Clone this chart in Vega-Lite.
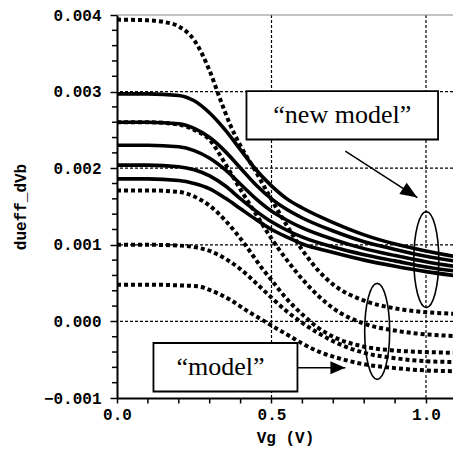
{
  "$schema": "https://vega.github.io/schema/vega-lite/v6.json",
  "width": 336,
  "height": 383,
  "autosize": {"type": "none"},
  "padding": {"left": 117, "top": 15, "right": 0, "bottom": 52},
  "background": "white",
  "view": {"stroke": null},
  "config": {
    "axis": {
      "labelFont": "Liberation Mono",
      "labelFontSize": 16,
      "labelFontWeight": "bold",
      "labelColor": "black",
      "labelOverlap": false,
      "titleFont": "Liberation Mono",
      "titleFontSize": 16,
      "titleFontWeight": "bold",
      "titleColor": "black",
      "domainColor": "black",
      "domainWidth": 2,
      "tickColor": "black",
      "tickWidth": 1.5,
      "grid": false
    }
  },
  "datasets": {
    "curves": [
      {"c": "S1", "k": "new", "x": 0, "y": 0.00297}, {"c": "S1", "k": "new", "x": 0.1, "y": 0.00297}, {"c": "S1", "k": "new", "x": 0.2, "y": 0.00295}, {"c": "S1", "k": "new", "x": 0.25, "y": 0.00288}, {"c": "S1", "k": "new", "x": 0.3, "y": 0.00272}, {"c": "S1", "k": "new", "x": 0.35, "y": 0.0025}, {"c": "S1", "k": "new", "x": 0.4, "y": 0.00224}, {"c": "S1", "k": "new", "x": 0.45, "y": 0.00198}, {"c": "S1", "k": "new", "x": 0.5, "y": 0.00177}, {"c": "S1", "k": "new", "x": 0.55, "y": 0.0016}, {"c": "S1", "k": "new", "x": 0.6, "y": 0.00148}, {"c": "S1", "k": "new", "x": 0.7, "y": 0.00129}, {"c": "S1", "k": "new", "x": 0.8, "y": 0.00113}, {"c": "S1", "k": "new", "x": 0.9, "y": 0.00101}, {"c": "S1", "k": "new", "x": 1.0, "y": 0.00092}, {"c": "S1", "k": "new", "x": 1.09, "y": 0.00085},
      {"c": "S2", "k": "new", "x": 0, "y": 0.0026}, {"c": "S2", "k": "new", "x": 0.1, "y": 0.0026}, {"c": "S2", "k": "new", "x": 0.2, "y": 0.00258}, {"c": "S2", "k": "new", "x": 0.25, "y": 0.00252}, {"c": "S2", "k": "new", "x": 0.3, "y": 0.0024}, {"c": "S2", "k": "new", "x": 0.35, "y": 0.00222}, {"c": "S2", "k": "new", "x": 0.4, "y": 0.002}, {"c": "S2", "k": "new", "x": 0.45, "y": 0.00178}, {"c": "S2", "k": "new", "x": 0.5, "y": 0.0016}, {"c": "S2", "k": "new", "x": 0.55, "y": 0.00146}, {"c": "S2", "k": "new", "x": 0.6, "y": 0.00135}, {"c": "S2", "k": "new", "x": 0.7, "y": 0.00118}, {"c": "S2", "k": "new", "x": 0.8, "y": 0.00104}, {"c": "S2", "k": "new", "x": 0.9, "y": 0.00094}, {"c": "S2", "k": "new", "x": 1.0, "y": 0.00085}, {"c": "S2", "k": "new", "x": 1.09, "y": 0.00079},
      {"c": "S3", "k": "new", "x": 0, "y": 0.0023}, {"c": "S3", "k": "new", "x": 0.1, "y": 0.0023}, {"c": "S3", "k": "new", "x": 0.2, "y": 0.00228}, {"c": "S3", "k": "new", "x": 0.25, "y": 0.00223}, {"c": "S3", "k": "new", "x": 0.3, "y": 0.00213}, {"c": "S3", "k": "new", "x": 0.35, "y": 0.00198}, {"c": "S3", "k": "new", "x": 0.4, "y": 0.00179}, {"c": "S3", "k": "new", "x": 0.45, "y": 0.0016}, {"c": "S3", "k": "new", "x": 0.5, "y": 0.00144}, {"c": "S3", "k": "new", "x": 0.55, "y": 0.00132}, {"c": "S3", "k": "new", "x": 0.6, "y": 0.00122}, {"c": "S3", "k": "new", "x": 0.7, "y": 0.00107}, {"c": "S3", "k": "new", "x": 0.8, "y": 0.00095}, {"c": "S3", "k": "new", "x": 0.9, "y": 0.00086}, {"c": "S3", "k": "new", "x": 1.0, "y": 0.00078}, {"c": "S3", "k": "new", "x": 1.09, "y": 0.00072},
      {"c": "S4", "k": "new", "x": 0, "y": 0.00204}, {"c": "S4", "k": "new", "x": 0.1, "y": 0.00204}, {"c": "S4", "k": "new", "x": 0.2, "y": 0.00202}, {"c": "S4", "k": "new", "x": 0.25, "y": 0.00198}, {"c": "S4", "k": "new", "x": 0.3, "y": 0.0019}, {"c": "S4", "k": "new", "x": 0.35, "y": 0.00177}, {"c": "S4", "k": "new", "x": 0.4, "y": 0.0016}, {"c": "S4", "k": "new", "x": 0.45, "y": 0.00144}, {"c": "S4", "k": "new", "x": 0.5, "y": 0.0013}, {"c": "S4", "k": "new", "x": 0.55, "y": 0.00119}, {"c": "S4", "k": "new", "x": 0.6, "y": 0.0011}, {"c": "S4", "k": "new", "x": 0.7, "y": 0.00097}, {"c": "S4", "k": "new", "x": 0.8, "y": 0.00087}, {"c": "S4", "k": "new", "x": 0.9, "y": 0.00079}, {"c": "S4", "k": "new", "x": 1.0, "y": 0.00071}, {"c": "S4", "k": "new", "x": 1.09, "y": 0.00066},
      {"c": "S5", "k": "new", "x": 0, "y": 0.00186}, {"c": "S5", "k": "new", "x": 0.1, "y": 0.00186}, {"c": "S5", "k": "new", "x": 0.2, "y": 0.00184}, {"c": "S5", "k": "new", "x": 0.25, "y": 0.0018}, {"c": "S5", "k": "new", "x": 0.3, "y": 0.00173}, {"c": "S5", "k": "new", "x": 0.35, "y": 0.00161}, {"c": "S5", "k": "new", "x": 0.4, "y": 0.00147}, {"c": "S5", "k": "new", "x": 0.45, "y": 0.00133}, {"c": "S5", "k": "new", "x": 0.5, "y": 0.0012}, {"c": "S5", "k": "new", "x": 0.55, "y": 0.0011}, {"c": "S5", "k": "new", "x": 0.6, "y": 0.00101}, {"c": "S5", "k": "new", "x": 0.7, "y": 0.0009}, {"c": "S5", "k": "new", "x": 0.8, "y": 0.0008}, {"c": "S5", "k": "new", "x": 0.9, "y": 0.00072}, {"c": "S5", "k": "new", "x": 1.0, "y": 0.00065}, {"c": "S5", "k": "new", "x": 1.09, "y": 0.0006},
      {"c": "D1", "k": "model", "x": 0, "y": 0.00394}, {"c": "D1", "k": "model", "x": 0.1, "y": 0.00393}, {"c": "D1", "k": "model", "x": 0.15, "y": 0.00391}, {"c": "D1", "k": "model", "x": 0.2, "y": 0.00385}, {"c": "D1", "k": "model", "x": 0.25, "y": 0.00367}, {"c": "D1", "k": "model", "x": 0.3, "y": 0.00327}, {"c": "D1", "k": "model", "x": 0.334, "y": 0.0029}, {"c": "D1", "k": "model", "x": 0.367, "y": 0.00256}, {"c": "D1", "k": "model", "x": 0.4, "y": 0.00229}, {"c": "D1", "k": "model", "x": 0.45, "y": 0.00195}, {"c": "D1", "k": "model", "x": 0.5, "y": 0.00159}, {"c": "D1", "k": "model", "x": 0.55, "y": 0.00125}, {"c": "D1", "k": "model", "x": 0.6, "y": 0.00093}, {"c": "D1", "k": "model", "x": 0.65, "y": 0.00067}, {"c": "D1", "k": "model", "x": 0.7, "y": 0.00048}, {"c": "D1", "k": "model", "x": 0.8, "y": 0.00027}, {"c": "D1", "k": "model", "x": 0.9, "y": 0.00017}, {"c": "D1", "k": "model", "x": 1.0, "y": 0.00012}, {"c": "D1", "k": "model", "x": 1.09, "y": 0.0001},
      {"c": "D2", "k": "model", "x": 0, "y": 0.0026}, {"c": "D2", "k": "model", "x": 0.1, "y": 0.0026}, {"c": "D2", "k": "model", "x": 0.2, "y": 0.00257}, {"c": "D2", "k": "model", "x": 0.25, "y": 0.0025}, {"c": "D2", "k": "model", "x": 0.3, "y": 0.00237}, {"c": "D2", "k": "model", "x": 0.35, "y": 0.00206}, {"c": "D2", "k": "model", "x": 0.4, "y": 0.00172}, {"c": "D2", "k": "model", "x": 0.45, "y": 0.0014}, {"c": "D2", "k": "model", "x": 0.5, "y": 0.00108}, {"c": "D2", "k": "model", "x": 0.55, "y": 0.0008}, {"c": "D2", "k": "model", "x": 0.6, "y": 0.00055}, {"c": "D2", "k": "model", "x": 0.65, "y": 0.00034}, {"c": "D2", "k": "model", "x": 0.7, "y": 0.00017}, {"c": "D2", "k": "model", "x": 0.8, "y": -0.00003}, {"c": "D2", "k": "model", "x": 0.9, "y": -0.00012}, {"c": "D2", "k": "model", "x": 1.0, "y": -0.00017}, {"c": "D2", "k": "model", "x": 1.09, "y": -0.00019},
      {"c": "D3", "k": "model", "x": 0, "y": 0.00171}, {"c": "D3", "k": "model", "x": 0.1, "y": 0.00171}, {"c": "D3", "k": "model", "x": 0.2, "y": 0.00169}, {"c": "D3", "k": "model", "x": 0.25, "y": 0.00163}, {"c": "D3", "k": "model", "x": 0.3, "y": 0.00151}, {"c": "D3", "k": "model", "x": 0.35, "y": 0.00132}, {"c": "D3", "k": "model", "x": 0.415, "y": 0.001}, {"c": "D3", "k": "model", "x": 0.47, "y": 0.00069}, {"c": "D3", "k": "model", "x": 0.5, "y": 0.00054}, {"c": "D3", "k": "model", "x": 0.55, "y": 0.00029}, {"c": "D3", "k": "model", "x": 0.6, "y": 0.00009}, {"c": "D3", "k": "model", "x": 0.65, "y": -0.00008}, {"c": "D3", "k": "model", "x": 0.7, "y": -0.0002}, {"c": "D3", "k": "model", "x": 0.8, "y": -0.00033}, {"c": "D3", "k": "model", "x": 0.9, "y": -0.00038}, {"c": "D3", "k": "model", "x": 1.0, "y": -0.0004}, {"c": "D3", "k": "model", "x": 1.09, "y": -0.00041},
      {"c": "D4", "k": "model", "x": 0, "y": 0.001}, {"c": "D4", "k": "model", "x": 0.1, "y": 0.001}, {"c": "D4", "k": "model", "x": 0.2, "y": 0.00099}, {"c": "D4", "k": "model", "x": 0.25, "y": 0.00097}, {"c": "D4", "k": "model", "x": 0.3, "y": 0.00092}, {"c": "D4", "k": "model", "x": 0.35, "y": 0.00082}, {"c": "D4", "k": "model", "x": 0.4, "y": 0.00068}, {"c": "D4", "k": "model", "x": 0.45, "y": 0.0005}, {"c": "D4", "k": "model", "x": 0.5, "y": 0.00031}, {"c": "D4", "k": "model", "x": 0.55, "y": 0.00013}, {"c": "D4", "k": "model", "x": 0.6, "y": -0.00002}, {"c": "D4", "k": "model", "x": 0.65, "y": -0.00015}, {"c": "D4", "k": "model", "x": 0.7, "y": -0.00026}, {"c": "D4", "k": "model", "x": 0.8, "y": -0.00041}, {"c": "D4", "k": "model", "x": 0.9, "y": -0.00048}, {"c": "D4", "k": "model", "x": 1.0, "y": -0.00052}, {"c": "D4", "k": "model", "x": 1.09, "y": -0.00053},
      {"c": "D5", "k": "model", "x": 0, "y": 0.00048}, {"c": "D5", "k": "model", "x": 0.1, "y": 0.00048}, {"c": "D5", "k": "model", "x": 0.2, "y": 0.00047}, {"c": "D5", "k": "model", "x": 0.26, "y": 0.00046}, {"c": "D5", "k": "model", "x": 0.3, "y": 0.00041}, {"c": "D5", "k": "model", "x": 0.367, "y": 0.00028}, {"c": "D5", "k": "model", "x": 0.42, "y": 0.00014}, {"c": "D5", "k": "model", "x": 0.474, "y": 0.00001}, {"c": "D5", "k": "model", "x": 0.507, "y": -0.00007}, {"c": "D5", "k": "model", "x": 0.55, "y": -0.00017}, {"c": "D5", "k": "model", "x": 0.6, "y": -0.00029}, {"c": "D5", "k": "model", "x": 0.65, "y": -0.00039}, {"c": "D5", "k": "model", "x": 0.7, "y": -0.00046}, {"c": "D5", "k": "model", "x": 0.8, "y": -0.00056}, {"c": "D5", "k": "model", "x": 0.9, "y": -0.00061}, {"c": "D5", "k": "model", "x": 1.0, "y": -0.00064}, {"c": "D5", "k": "model", "x": 1.09, "y": -0.00065}
    ],
    "vgrid": [{"x": 0.5}, {"x": 1.0}],
    "hgrid": [{"y": 0}, {"y": 0.001}, {"y": 0.002}, {"y": 0.003}],
    "border": [{"y": 0.004}],
    "minorx": [{"x": 0.1}, {"x": 0.2}, {"x": 0.3}, {"x": 0.4}, {"x": 0.6}, {"x": 0.7}, {"x": 0.8}, {"x": 0.9}],
    "minory": [{"y": -0.0008}, {"y": -0.0006}, {"y": -0.0004}, {"y": -0.0002}, {"y": 0.0002}, {"y": 0.0004}, {"y": 0.0006}, {"y": 0.0008}, {"y": 0.0012}, {"y": 0.0014}, {"y": 0.0016}, {"y": 0.0018}, {"y": 0.0022}, {"y": 0.0024}, {"y": 0.0026}, {"y": 0.0028}, {"y": 0.0032}, {"y": 0.0034}, {"y": 0.0036}, {"y": 0.0038}],
    "boxes": [
      {"x": 0.419, "x2": 1.039, "y": 0.002375, "y2": 0.003007, "t": "“new model”", "tx": 0.729, "ty": 0.00269},
      {"x": 0.118, "x2": 0.584, "y": -0.000915, "y2": -0.000282, "t": "“model”", "tx": 0.335, "ty": -0.000592}
    ],
    "arrows": [
      {"x": 0.739, "y": 0.002222, "x2": 0.972, "y2": 0.001617},
      {"x": 0.584, "y": -0.000605, "x2": 0.739, "y2": -0.000605}
    ],
    "ellipses": [
      {"x": 1.001, "y": 0.000807},
      {"x": 0.842, "y": -0.00013}
    ]
  },
  "layer": [
    {
      "data": {"name": "vgrid"},
      "mark": {"type": "rule", "color": "black", "strokeWidth": 1.2, "strokeDash": [3, 2]},
      "encoding": {
        "x": {
          "field": "x", "type": "quantitative",
          "scale": {"domain": [0, 1.0874], "nice": false, "zero": false},
          "axis": {
            "title": "Vg (V)",
            "values": [0, 0.5, 1.0],
            "format": ".1f",
            "labelFlush": false,
            "tickSize": 5,
            "labelPadding": 3,
            "titlePadding": 7
          }
        }
      }
    },
    {
      "data": {"name": "hgrid"},
      "mark": {"type": "rule", "color": "black", "strokeWidth": 1.2, "strokeDash": [3, 2]},
      "encoding": {
        "y": {
          "field": "y", "type": "quantitative",
          "scale": {"domain": [-0.001, 0.004], "nice": false, "zero": false},
          "axis": {
            "title": "dueff_dVb",
            "values": [-0.001, 0, 0.001, 0.002, 0.003, 0.004],
            "format": ".3f",
            "labelFlush": false,
            "tickSize": 7,
            "labelPadding": 9,
            "titlePadding": 15
          }
        }
      }
    },
    {
      "data": {"name": "minorx"},
      "mark": {"type": "tick", "orient": "vertical", "color": "black", "size": 5, "thickness": 1.5, "yOffset": 3, "opacity": 1},
      "encoding": {
        "x": {"field": "x", "type": "quantitative"},
        "y": {"datum": -0.001, "type": "quantitative"}
      }
    },
    {
      "data": {"name": "minory"},
      "mark": {"type": "tick", "orient": "horizontal", "color": "black", "size": 5, "thickness": 1.5, "xOffset": -2.5, "opacity": 1},
      "encoding": {
        "y": {"field": "y", "type": "quantitative"},
        "x": {"datum": 0, "type": "quantitative"}
      }
    },
    {
      "data": {"name": "border"},
      "mark": {"type": "rule", "color": "#888888", "strokeWidth": 1.2},
      "encoding": {
        "y": {"field": "y", "type": "quantitative"}
      }
    },
    {
      "data": {"name": "curves"},
      "transform": [{"filter": "datum.k == 'new'"}],
      "mark": {"type": "line", "color": "black", "strokeWidth": 3.6, "interpolate": "monotone", "clip": true},
      "encoding": {
        "x": {"field": "x", "type": "quantitative"},
        "y": {"field": "y", "type": "quantitative"},
        "detail": {"field": "c"}
      }
    },
    {
      "data": {"name": "curves"},
      "transform": [{"filter": "datum.k == 'model'"}],
      "mark": {"type": "line", "color": "black", "strokeWidth": 4, "strokeDash": [4, 3], "strokeCap": "butt", "interpolate": "monotone", "clip": true},
      "encoding": {
        "x": {"field": "x", "type": "quantitative"},
        "y": {"field": "y", "type": "quantitative"},
        "detail": {"field": "c"}
      }
    },
    {
      "data": {"name": "ellipses"},
      "mark": {"type": "point", "shape": "M0,-1C0.143,-1 0.26,-0.552 0.26,0C0.26,0.552 0.143,1 0,1C-0.143,1 -0.26,0.552 -0.26,0C-0.26,-0.552 -0.143,-1 0,-1Z", "size": 9216, "filled": false, "stroke": "black", "strokeWidth": 1.6, "opacity": 1},
      "encoding": {
        "x": {"field": "x", "type": "quantitative"},
        "y": {"field": "y", "type": "quantitative"}
      }
    },
    {
      "data": {"name": "arrows"},
      "mark": {"type": "rule", "color": "black", "strokeWidth": 1.5},
      "encoding": {
        "x": {"field": "x", "type": "quantitative"},
        "y": {"field": "y", "type": "quantitative"},
        "x2": {"field": "x2"},
        "y2": {"field": "y2"}
      }
    },
    {
      "data": {"values": [{"x": 0.972, "y": 0.001617}]},
      "mark": {"type": "point", "shape": "M0,0L-1,-0.4L-1,0.4Z", "size": 1156, "filled": true, "color": "black", "opacity": 1, "angle": 32.7},
      "encoding": {
        "x": {"field": "x", "type": "quantitative"},
        "y": {"field": "y", "type": "quantitative"}
      }
    },
    {
      "data": {"values": [{"x": 0.739, "y": -0.000605}]},
      "mark": {"type": "point", "shape": "M0,0L-1,-0.43L-1,0.43Z", "size": 900, "filled": true, "color": "black", "opacity": 1, "angle": 0},
      "encoding": {
        "x": {"field": "x", "type": "quantitative"},
        "y": {"field": "y", "type": "quantitative"}
      }
    },
    {
      "data": {"name": "boxes"},
      "mark": {"type": "rect", "fill": "white", "stroke": "black", "strokeWidth": 1.8},
      "encoding": {
        "x": {"field": "x", "type": "quantitative"},
        "x2": {"field": "x2"},
        "y": {"field": "y", "type": "quantitative"},
        "y2": {"field": "y2"}
      }
    },
    {
      "data": {"name": "boxes"},
      "mark": {"type": "text", "font": "Liberation Serif", "fontSize": 26, "color": "black", "align": "center", "baseline": "middle"},
      "encoding": {
        "x": {"field": "tx", "type": "quantitative"},
        "y": {"field": "ty", "type": "quantitative"},
        "text": {"field": "t"}
      }
    }
  ]
}
